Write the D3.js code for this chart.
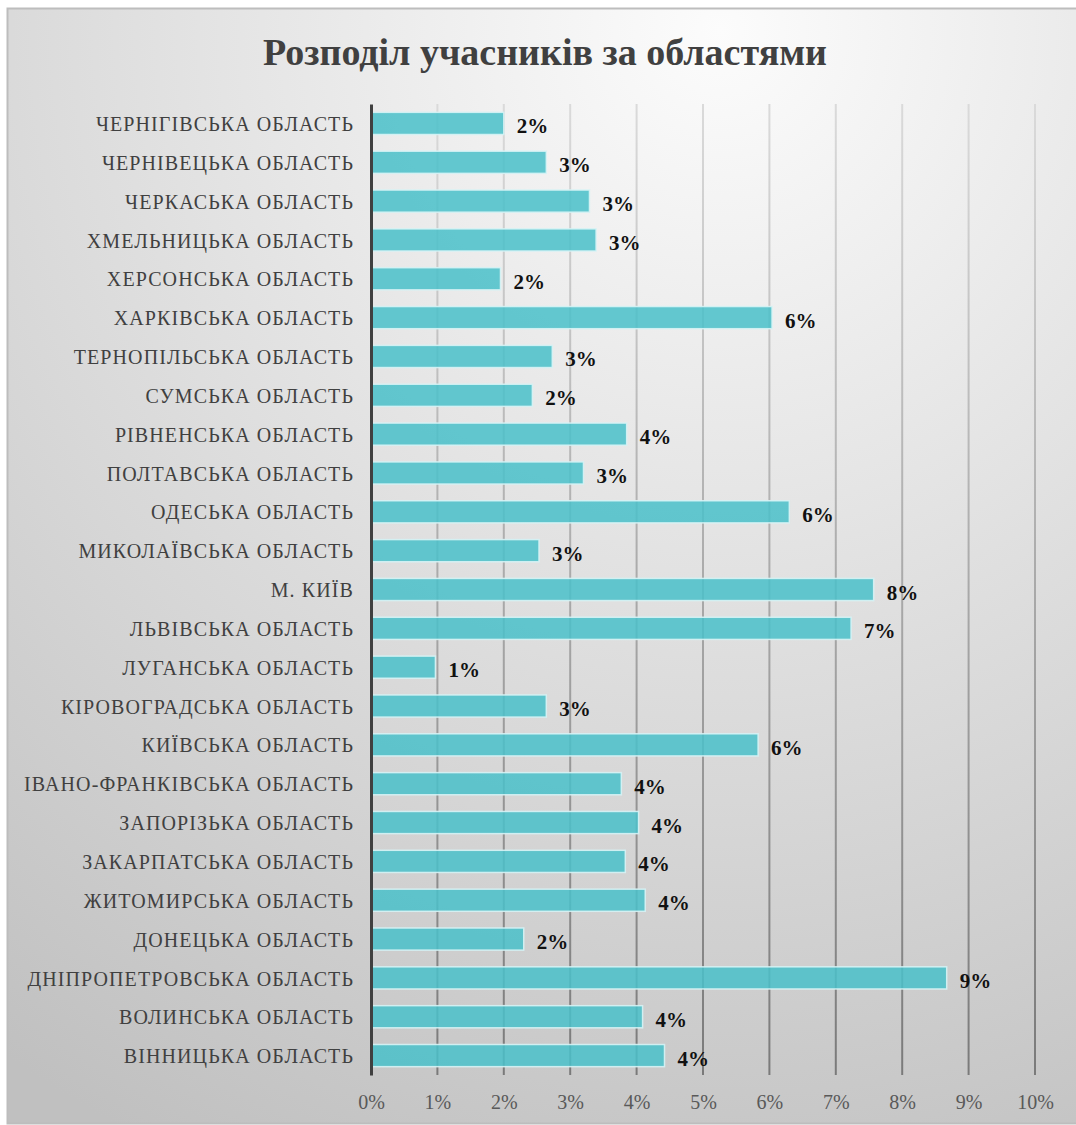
<!DOCTYPE html>
<html>
<head>
<meta charset="utf-8">
<title>Розподіл учасників за областями</title>
<style>
  body { margin: 0; background: #fff; }
</style>
</head>
<body>
<script src="https://cdn.jsdelivr.net/npm/d3@7"></script>
<script>
    var width = 1076;
    var height = 1125;

    // області, зверху вниз як на діаграмі
    var regions = [
        "ЧЕРНІГІВСЬКА ОБЛАСТЬ", "ЧЕРНІВЕЦЬКА ОБЛАСТЬ", "ЧЕРКАСЬКА ОБЛАСТЬ",
        "ХМЕЛЬНИЦЬКА ОБЛАСТЬ", "ХЕРСОНСЬКА ОБЛАСТЬ", "ХАРКІВСЬКА ОБЛАСТЬ",
        "ТЕРНОПІЛЬСЬКА ОБЛАСТЬ", "СУМСЬКА ОБЛАСТЬ", "РІВНЕНСЬКА ОБЛАСТЬ",
        "ПОЛТАВСЬКА ОБЛАСТЬ", "ОДЕСЬКА ОБЛАСТЬ", "МИКОЛАЇВСЬКА ОБЛАСТЬ",
        "М. КИЇВ", "ЛЬВІВСЬКА ОБЛАСТЬ", "ЛУГАНСЬКА ОБЛАСТЬ",
        "КІРОВОГРАДСЬКА ОБЛАСТЬ", "КИЇВСЬКА ОБЛАСТЬ", "ІВАНО-ФРАНКІВСЬКА ОБЛАСТЬ",
        "ЗАПОРІЗЬКА ОБЛАСТЬ", "ЗАКАРПАТСЬКА ОБЛАСТЬ", "ЖИТОМИРСЬКА ОБЛАСТЬ",
        "ДОНЕЦЬКА ОБЛАСТЬ", "ДНІПРОПЕТРОВСЬКА ОБЛАСТЬ", "ВОЛИНСЬКА ОБЛАСТЬ",
        "ВІННИЦЬКА ОБЛАСТЬ"
    ];
    // частка учасників, %
    var shares = [
        2.00, 2.64, 3.29,
        3.39, 1.95, 6.04,
        2.73, 2.43, 3.85,
        3.20, 6.30, 2.53,
        7.57, 7.23, 0.97,
        2.64, 5.83, 3.77,
        4.03, 3.83, 4.13,
        2.30, 8.67, 4.09,
        4.42
    ];
    var ticks = [0, 1, 2, 3, 4, 5, 6, 7, 8, 9, 10];

    var data = regions.map(function (r, i) { return { name: r, value: shares[i] }; });

    var serif = '"Liberation Serif", "DejaVu Serif", serif';

    var svg = d3.select('body')
            .append('svg')
            .attr('width', width)
            .attr('height', height)
            .style('display', 'block');

    var defs = svg.append('defs');

    // фон: світлий угорі праворуч, темніший донизу
    var bg = defs.append('radialGradient')
            .attr('id', 'bg')
            .attr('gradientUnits', 'userSpaceOnUse')
            .attr('cx', 720).attr('cy', 30).attr('r', 1250);
    bg.append('stop').attr('offset', '0%').attr('stop-color', '#fcfcfc');
    bg.append('stop').attr('offset', '100%').attr('stop-color', '#c0c0c0');

    // сітка темнішає донизу
    var gg = defs.append('linearGradient')
            .attr('id', 'grid')
            .attr('gradientUnits', 'userSpaceOnUse')
            .attr('x1', 0).attr('y1', 104).attr('x2', 0).attr('y2', 1075);
    gg.append('stop').attr('offset', '0%').attr('stop-color', '#dadada');
    gg.append('stop').attr('offset', '50%').attr('stop-color', '#a9a9a9');
    gg.append('stop').attr('offset', '100%').attr('stop-color', '#7a7a7a');

    svg.append('rect')
            .attr('x', 7.5).attr('y', 8.5)
            .attr('width', width + 10).attr('height', height - 10)
            .attr('fill', 'url(#bg)')
            .attr('stroke', '#bdbdbd')
            .attr('stroke-width', 2);

    svg.append('text')
            .attr('x', 545)
            .attr('y', 65)
            .attr('text-anchor', 'middle')
            .style('font-family', serif)
            .style('font-weight', 'bold')
            .style('font-size', '38px')
            .attr('fill', '#404040')
            .text('Розподіл учасників за областями');

    var x = d3.scaleLinear()
            .domain([0, 10])
            .range([371, 1035]);

    var y = d3.scaleBand()
            .domain(regions)
            .range([104, 1075])
            .paddingInner(0.43)
            .paddingOuter(0.215);

    // вертикальна сітка
    svg.append('g')
            .selectAll('line')
            .data(ticks.slice(1))
            .enter()
            .append('line')
            .attr('x1', function (d) { return x(d); })
            .attr('x2', function (d) { return x(d); })
            .attr('y1', 104)
            .attr('y2', 1075)
            .attr('stroke', 'url(#grid)')
            .attr('stroke-width', 2);

    // смуги
    svg.append('g')
            .selectAll('rect')
            .data(data)
            .enter()
            .append('rect')
            .attr('x', x(0))
            .attr('y', function (d) { return y(d.name); })
            .attr('width', function (d) { return x(d.value) - x(0); })
            .attr('height', y.bandwidth())
            .attr('fill', 'rgba(75, 192, 202, 0.86)')
            .attr('stroke', 'rgba(215, 243, 245, 0.9)')
            .attr('stroke-width', 1.5);

    // підписи значень
    var fmt = d3.format('.0%');
    svg.append('g')
            .selectAll('text')
            .data(data)
            .enter()
            .append('text')
            .attr('x', function (d) { return x(d.value) + 13; })
            .attr('y', function (d) { return y(d.name) + y.bandwidth() / 2 + 10; })
            .style('font-family', serif)
            .style('font-weight', 'bold')
            .style('font-size', '21px')
            .attr('fill', '#111')
            .text(function (d) { return fmt(d.value / 100); });

    // вісь категорій
    var yAxis = svg.append('g')
            .attr('transform', 'translate(' + x(0) + ',0)')
            .call(d3.axisLeft(y).tickSize(0).tickPadding(17));
    yAxis.select('.domain')
            .attr('stroke', '#404040')
            .attr('stroke-width', 3);
    yAxis.selectAll('.tick text')
            .attr('dy', '0.38em')
            .style('font-family', serif)
            .style('font-size', '20px')
            .style('letter-spacing', '1.1px')
            .attr('fill', '#404040');

    // вісь значень
    var xAxis = svg.append('g')
            .attr('transform', 'translate(0,1075)')
            .call(d3.axisBottom(x).tickValues(ticks).tickSize(0).tickPadding(20)
                    .tickFormat(function (d) { return d + '%'; }));
    xAxis.select('.domain').remove();
    xAxis.selectAll('text')
            .style('font-family', serif)
            .style('font-size', '20px')
            .attr('fill', '#595959');
</script>
</body>
</html>
